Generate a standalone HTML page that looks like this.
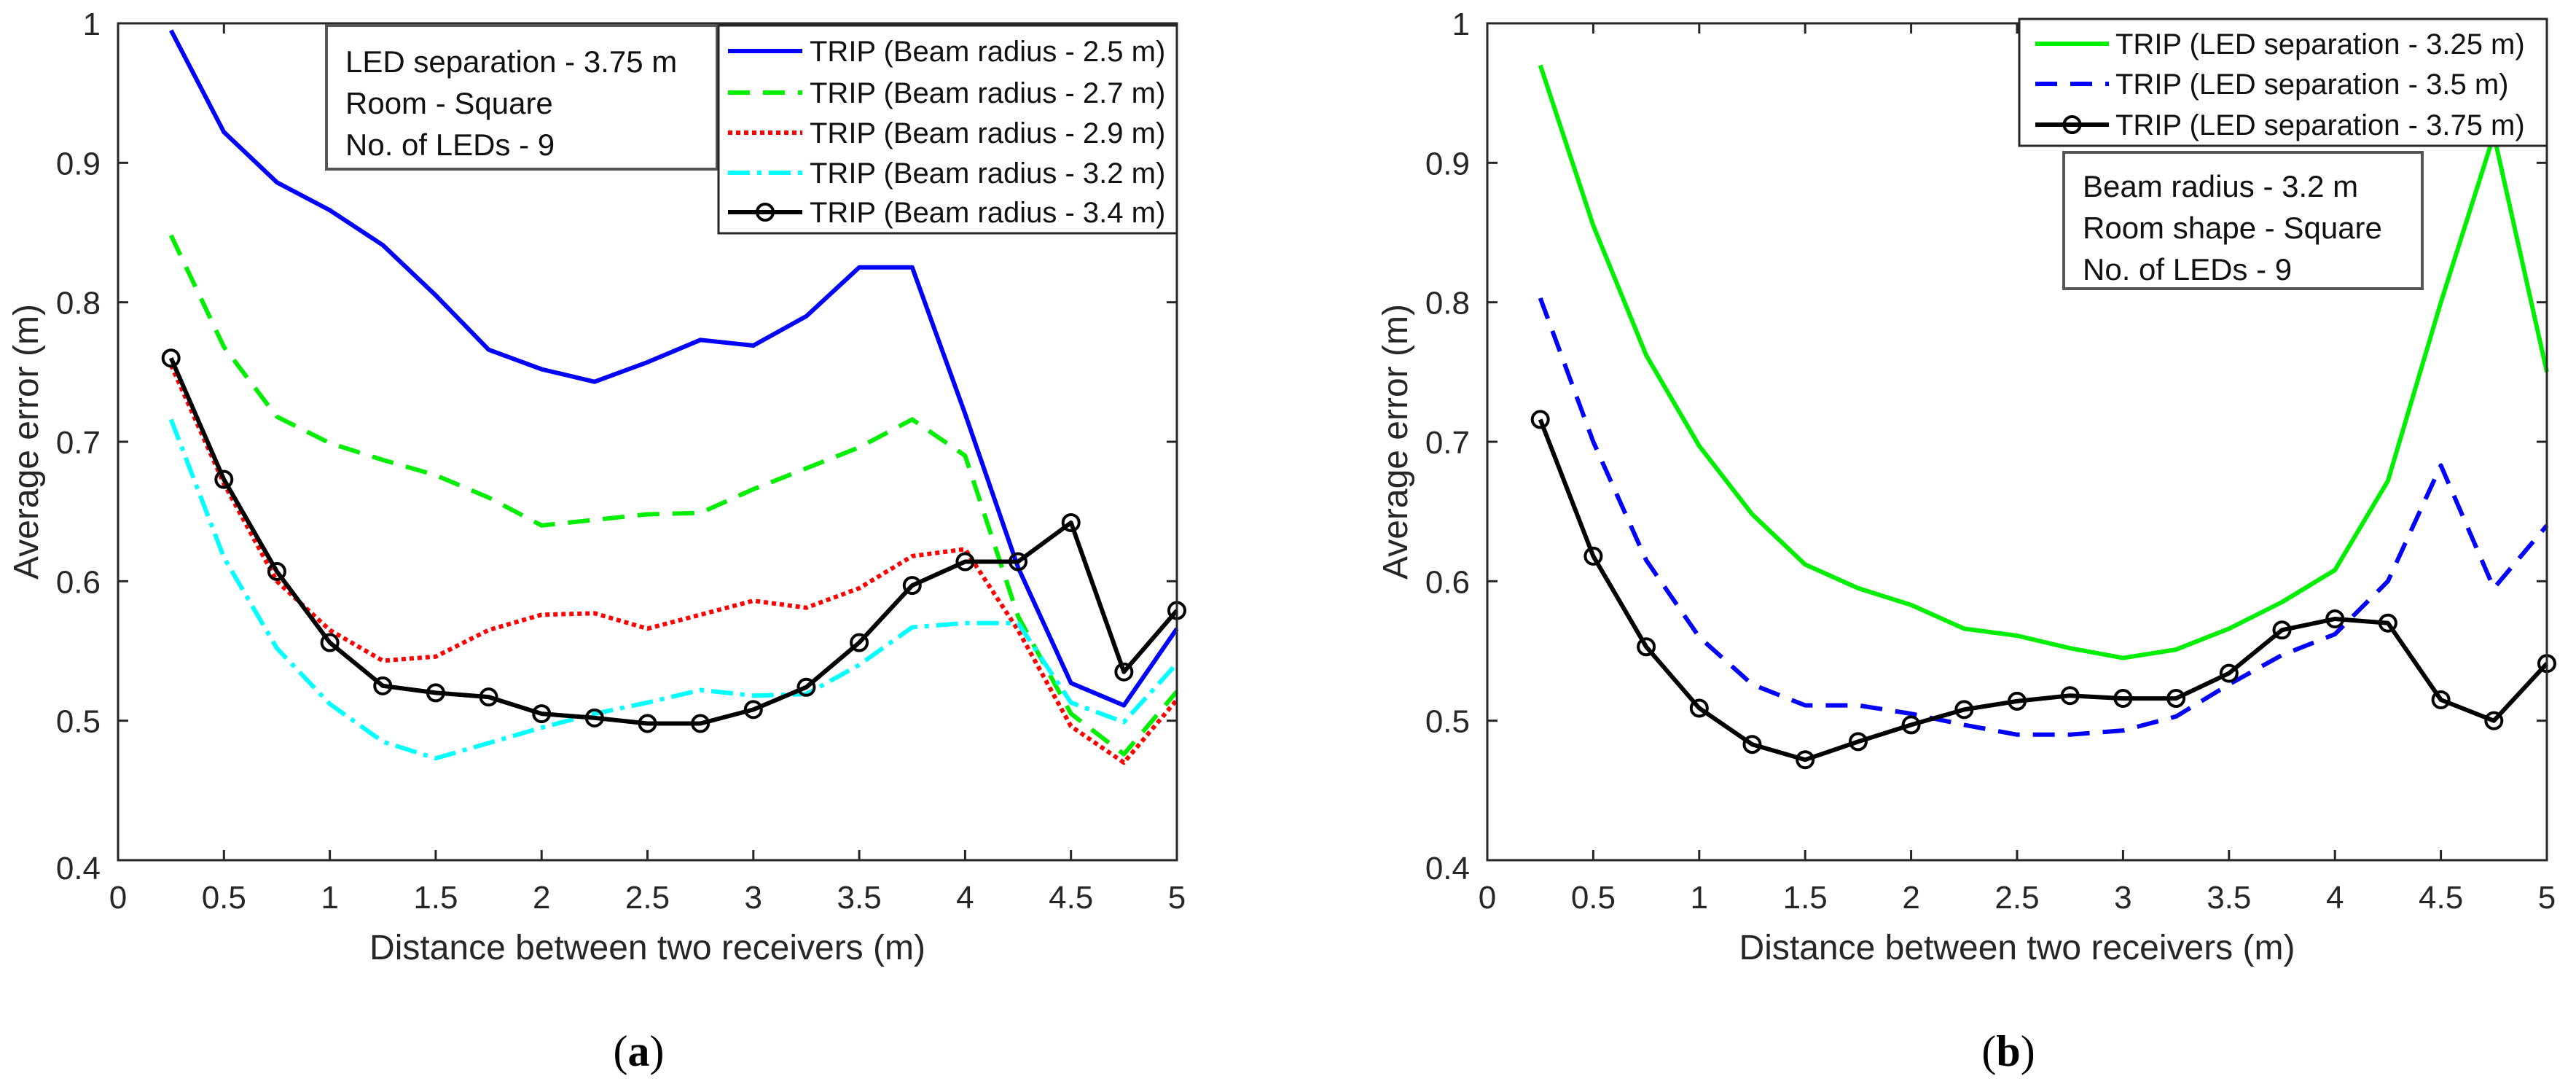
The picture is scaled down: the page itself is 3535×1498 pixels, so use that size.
<!DOCTYPE html>
<html><head><meta charset="utf-8"><style>
html,body{margin:0;padding:0;background:#fff;}
svg{display:block;font-family:"Liberation Sans",Arial,sans-serif;}
</style></head><body>
<svg id="fig" width="3535" height="1498" viewBox="0 0 3535 1498" xmlns="http://www.w3.org/2000/svg"></svg>
<script>
const xCats = [0.25,0.5,0.75,1,1.25,1.5,1.75,2,2.25,2.5,2.75,3,3.25,3.5,3.75,4,4.25,4.5,4.75,5];
const xTicks = [0,0.5,1,1.5,2,2.5,3,3.5,4,4.5,5];
const yTicks = [0.4,0.5,0.6,0.7,0.8,0.9,1];
const xTickLabels = ["0","0.5","1","1.5","2","2.5","3","3.5","4","4.5","5"];
const yTickLabels = ["0.4","0.5","0.6","0.7","0.8","0.9","1"];
// panel a
const aBeam25 = [0.995,0.922,0.886,0.866,0.841,0.805,0.766,0.752,0.743,0.757,0.773,0.769,0.790,0.825,0.825,0.720,0.610,0.527,0.511,0.566];
const aBeam27 = [0.848,0.768,0.718,0.699,0.687,0.676,0.660,0.640,0.644,0.648,0.649,0.666,0.681,0.696,0.716,0.690,0.575,0.505,0.476,0.521];
const aBeam29 = [0.755,0.670,0.600,0.565,0.543,0.546,0.565,0.576,0.577,0.566,0.576,0.586,0.581,0.595,0.618,0.623,0.565,0.496,0.470,0.515];
const aBeam32 = [0.716,0.617,0.552,0.512,0.485,0.473,0.484,0.495,0.505,0.513,0.522,0.518,0.519,0.540,0.567,0.570,0.570,0.513,0.499,0.541];
const aBeam34 = [0.760,0.673,0.607,0.556,0.525,0.520,0.517,0.505,0.502,0.498,0.498,0.508,0.524,0.556,0.597,0.614,0.614,0.642,0.535,0.579];
// panel b
const bSep325 = [0.970,0.855,0.762,0.697,0.648,0.612,0.595,0.583,0.566,0.561,0.552,0.545,0.551,0.566,0.585,0.608,0.672,0.800,0.920,0.750];
const bSep35 = [0.803,0.700,0.615,0.560,0.526,0.511,0.511,0.505,0.497,0.490,0.490,0.493,0.503,0.526,0.547,0.562,0.600,0.683,0.595,0.640];
const bSep375 = [0.716,0.618,0.553,0.509,0.483,0.472,0.485,0.497,0.508,0.514,0.518,0.516,0.516,0.534,0.565,0.573,0.570,0.515,0.500,0.541];

const NS="http://www.w3.org/2000/svg";
const svg=document.getElementById('fig');
function mk(tag,attrs,parent){const e=document.createElementNS(NS,tag);for(const k in attrs)e.setAttribute(k,attrs[k]);(parent||svg).appendChild(e);return e;}
function txt(s,attrs,parent){const e=mk('text',attrs,parent);e.textContent=s;return e;}

function panel(id,L,R,T,B,series,legend,box,cap){
  const g=mk('g',{});
  
  
  const sx=v=>L+(v-0)/(5-0)*(R-L);
  const sy=v=>B-(v-0.4)/(1-0.4)*(B-T);
  // series
  series.forEach(s=>{
    const pts=xCats.map((x,i)=>sx(x).toFixed(1)+','+sy(s.data[i]).toFixed(1)).join(' ');
    const pl=mk('polyline',{points:pts,fill:'none',stroke:s.color,'stroke-width':s.w||6,'stroke-dasharray':s.dash||'none','stroke-linejoin':'round'},g);
    
    
    if(s.marker){xCats.forEach((x,i)=>{const c=mk('circle',{cx:sx(x),cy:sy(s.data[i]),r:11,fill:'none',stroke:'#000','stroke-width':4},g);
      
      });}
  });
  // axes box
  const ax=mk('rect',{x:L,y:T,width:R-L,height:B-T,fill:'none',stroke:'#262626','stroke-width':3},g);
  
  
  xTicks.forEach((v,i)=>{const x=sx(v);
    mk('line',{x1:x,y1:B,x2:x,y2:B-14,stroke:'#262626','stroke-width':3},g);
    mk('line',{x1:x,y1:T,x2:x,y2:T+14,stroke:'#262626','stroke-width':3},g);
    const t=txt(xTickLabels[i],{x:x,y:B+66,'font-size':44,fill:'#262626','text-anchor':'middle'},g);
    
    });
  yTicks.forEach((v,i)=>{const y=sy(v);
    mk('line',{x1:L,y1:y,x2:L+14,y2:y,stroke:'#262626','stroke-width':3},g);
    mk('line',{x1:R,y1:y,x2:R-14,y2:y,stroke:'#262626','stroke-width':3},g);
    const t=txt(yTickLabels[i],{x:L-24,y:y+16+(i===0?10:0),'font-size':44,fill:'#262626','text-anchor':'end'},g);
    
    });
  const xl=txt('Distance between two receivers (m)',{x:(L+R)/2,y:B+136,'font-size':48,fill:'#262626','text-anchor':'middle'},g);
  
  
  const yl=txt('Average error (m)',{x:0,y:0,'font-size':48,fill:'#262626','text-anchor':'middle',transform:`translate(${L-110},${(T+B)/2}) rotate(-90)`},g);
  
  
  // text box
  const tb=mk('rect',{x:box.x,y:box.y,width:box.w,height:box.h,fill:'#fff',stroke:'#555','stroke-width':4},g);
  
  
  box.lines.forEach((s,i)=>{const t=txt(s,{x:box.x+26,y:box.ly[i]+15,'font-size':42,fill:'#111'},g);
    
    });
  // legend
  const lg=mk('rect',{x:legend.x,y:legend.y,width:legend.w,height:legend.h,fill:'#fff',stroke:'#262626','stroke-width':3},g);
  
  
  series.forEach((s,i)=>{const y=legend.ey[i];
    mk('line',{x1:legend.lx1,y1:y,x2:legend.lx2,y2:y,stroke:s.color,'stroke-width':s.w||6,'stroke-dasharray':s.dash||'none'},g);
    if(s.marker) mk('circle',{cx:(legend.lx1+legend.lx2)/2,cy:y,r:11,fill:'none',stroke:'#000','stroke-width':4},g);
    const t=txt(s.label,{x:legend.tx,y:y+14,'font-size':40,fill:'#111'},g);
    
    });
  const c=txt(cap,{x:(L+R)/2-12,y:1462,'font-size':60,fill:'#000','text-anchor':'middle','font-family':'Liberation Serif, serif'},g);
  
  
  c.innerHTML='('+'<tspan font-weight="bold">'+cap+'</tspan>)';
}

panel('panel-a',162,1615,32,1180,[
  {name:'line-beam-2-5',label:'TRIP (Beam radius - 2.5 m)',data:aBeam25,color:'#0000ff'},
  {name:'line-beam-2-7',label:'TRIP (Beam radius - 2.7 m)',data:aBeam27,color:'#00ee00',dash:'30 18'},
  {name:'line-beam-2-9',label:'TRIP (Beam radius - 2.9 m)',data:aBeam29,color:'#ff0000',dash:'6 5'},
  {name:'line-beam-3-2',label:'TRIP (Beam radius - 3.2 m)',data:aBeam32,color:'#00ffff',dash:'30 10 6 10'},
  {name:'line-beam-3-4',label:'TRIP (Beam radius - 3.4 m)',data:aBeam34,color:'#000',marker:true}
],{x:986,y:35,w:629,h:285,ey:[70,127,182,237,291],lx1:999,lx2:1101,tx:1111},
{x:448,y:35,w:536,h:197,ly:[84,141,198],lines:['LED separation - 3.75 m','Room - Square','No. of LEDs - 9']},'a');

panel('panel-b',2041,3495,32,1180,[
  {name:'line-sep-3-25',label:'TRIP (LED separation - 3.25 m)',data:bSep325,color:'#00ee00'},
  {name:'line-sep-3-5',label:'TRIP (LED separation - 3.5 m)',data:bSep35,color:'#0000ff',dash:'30 18'},
  {name:'line-sep-3-75',label:'TRIP (LED separation - 3.75 m)',data:bSep375,color:'#000',marker:true}
],{x:2771,y:26,w:724,h:174,ey:[60,115,171],lx1:2793,lx2:2894,tx:2903},
{x:2832,y:209,w:492,h:187,ly:[255,312,369],lines:['Beam radius - 3.2 m','Room shape - Square','No. of LEDs - 9']},'b');
</script>
</body></html>
